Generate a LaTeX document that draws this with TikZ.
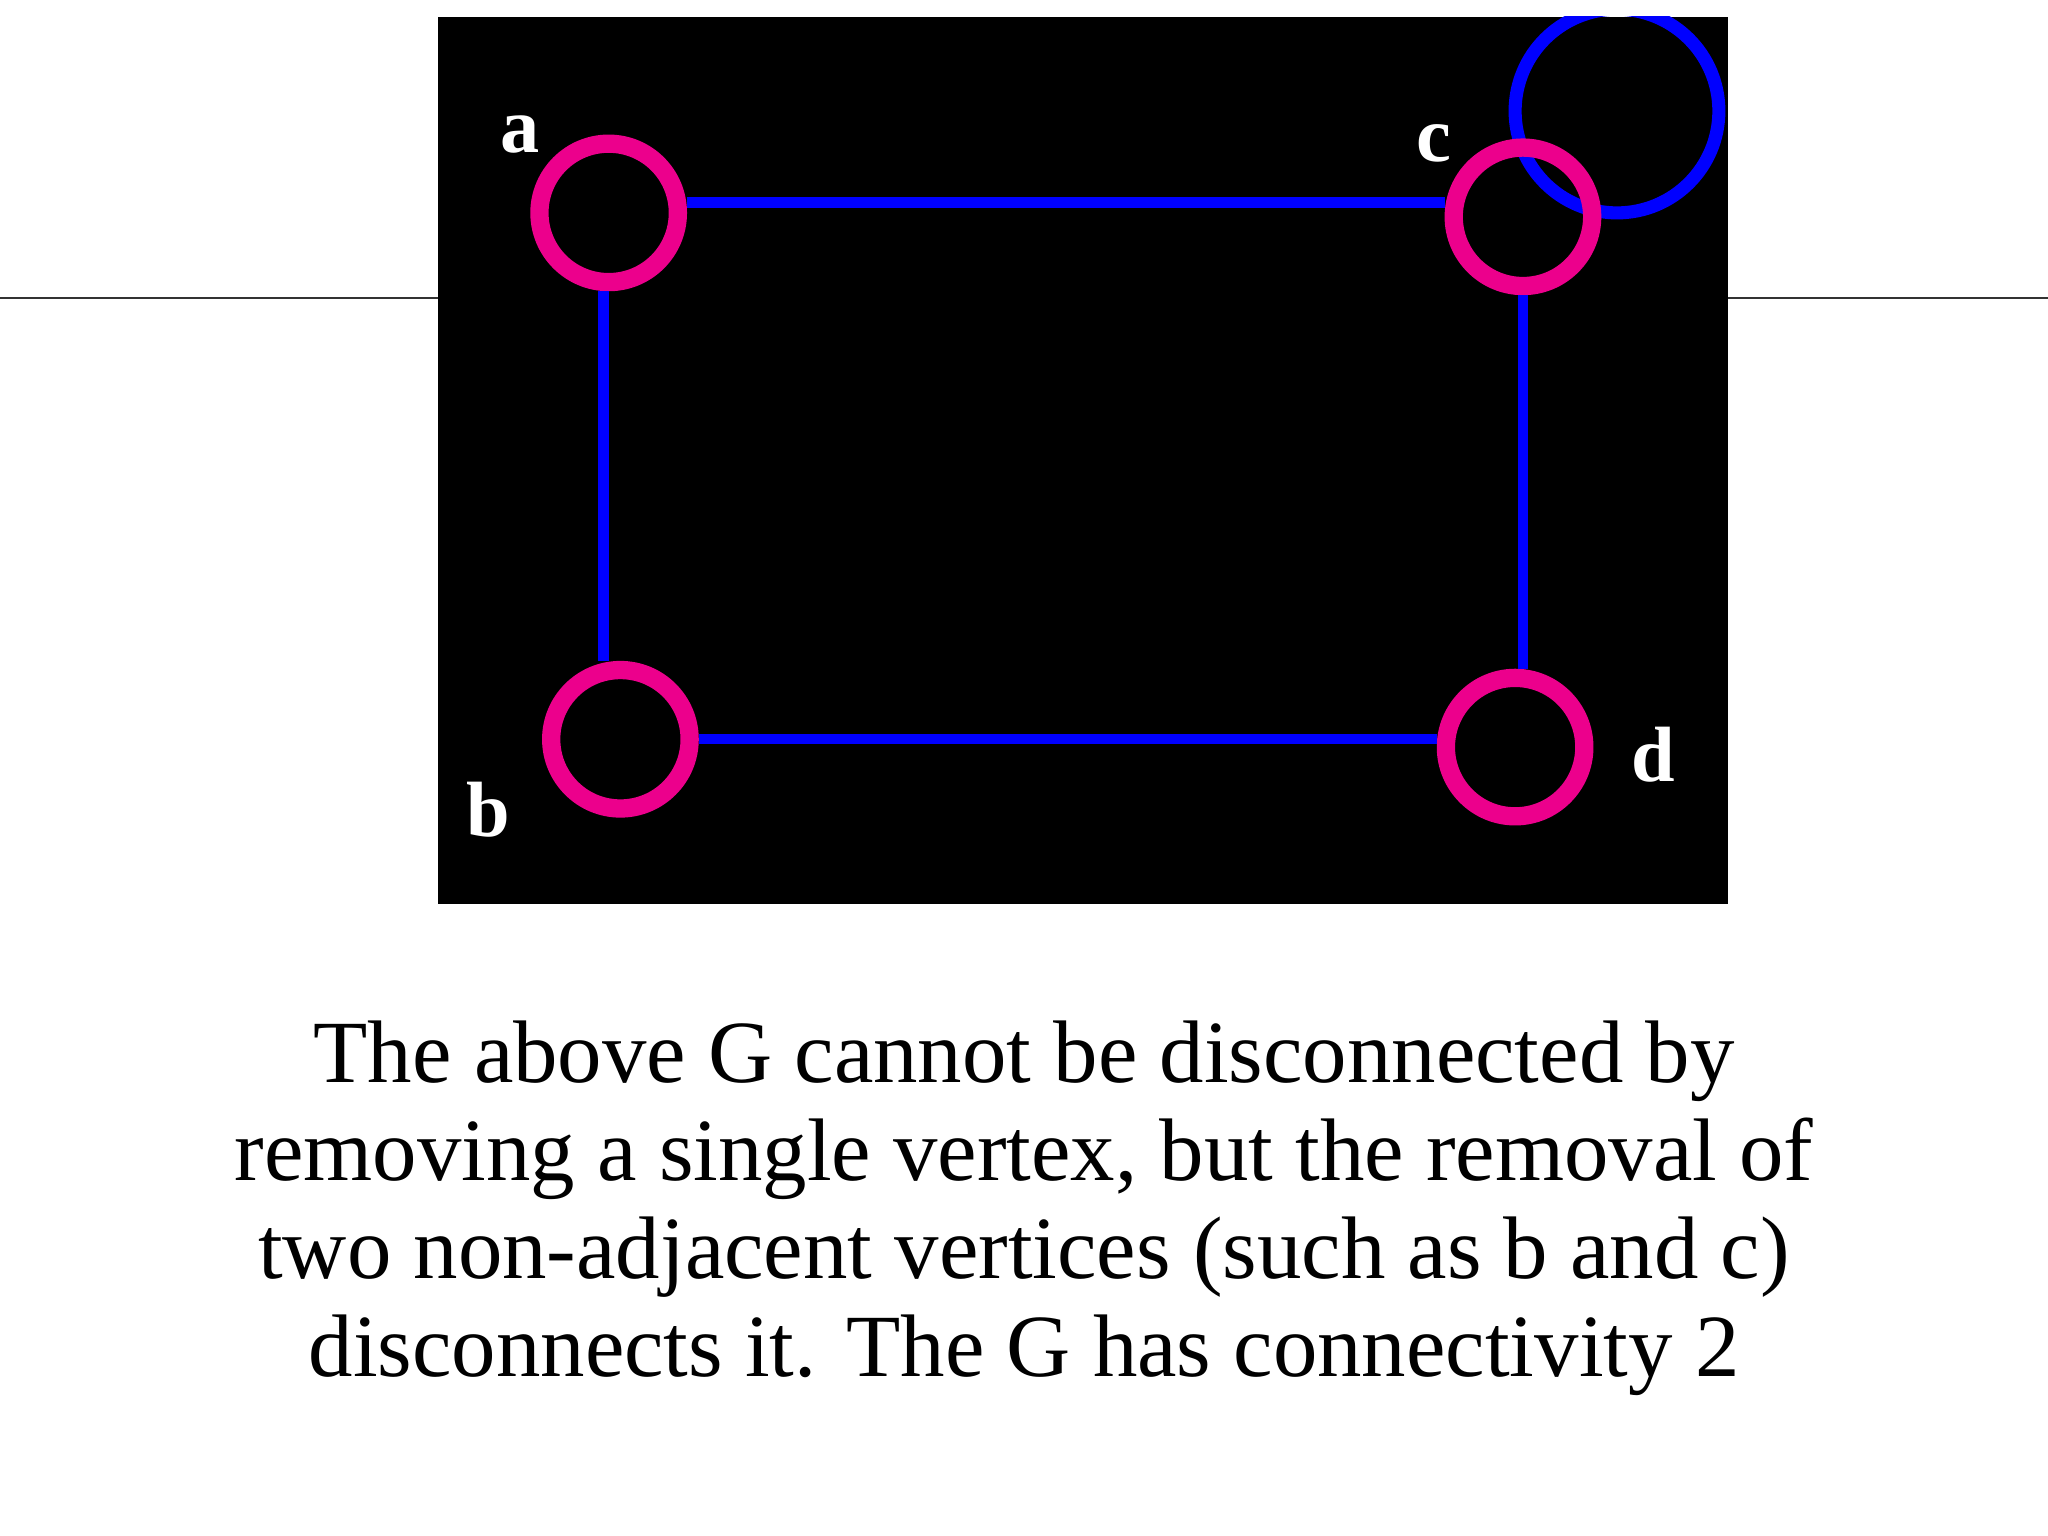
\documentclass[tikz,border=0pt]{standalone}
\usepackage{fontspec}
\setmainfont{Liberation Serif}
\begin{document}
\begin{tikzpicture}[x=0.5pt,y=-0.5pt,
  vtx/.style={draw=magenta,line width=7pt,circle,minimum size=53pt,inner sep=0pt},
  edge/.style={draw=blue,line width=4pt},
  lbl/.style={text=white,font=\fontsize{30}{30}\selectfont\bfseries}]
\useasboundingbox (0,0) rectangle (1568,1176);
\fill[white] (0,0) rectangle (1568,1176);
\draw[black!80,line width=0.6pt] (0,228) -- (335,228) (1323,228) -- (1568,228);
\fill[black] (335,13) rectangle (1323,692);
\begin{scope}
\clip (335,13) rectangle (1323,692);
\draw[blue,line width=5pt] (1238,85) circle [radius=78];
\end{scope}
\node[vtx] (a) at (466,163) {};
\node[vtx] (b) at (475,566) {};
\node[vtx] (c) at (1166,166) {};
\node[vtx] (d) at (1160,572) {};
\draw[edge] (a.east |- 0,155) -- (c.west |- 0,155);
\draw[edge] (a.south -| 462,0) -- (b.north -| 462,0);
\draw[edge] (b.east |- 0,566) -- (d.west |- 0,566);
\draw[edge] (c.south -| 1166,0) -- (d.north -| 1166,0);
\node[lbl] (la) at (398,103) {a};
\node[lbl] (lc) at (1098,110) {c};
\node[lbl] (lb) at (374,620) {b};
\node[lbl] (ld) at (1266,578) {d};
\node[align=center,font=\fontsize{34}{37.5}\selectfont] (cap) at (784,925) {The above G cannot be disconnected by\\removing a single vertex, but the removal of\\two non-adjacent vertices (such as b and c)\\disconnects it. The G has connectivity 2};
\end{tikzpicture}
\end{document}
